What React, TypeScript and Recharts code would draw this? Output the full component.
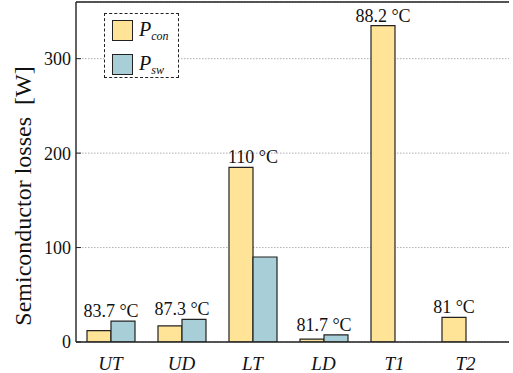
import React from 'react';
import {
  BarChart,
  Bar,
  XAxis,
  YAxis,
  CartesianGrid,
  Legend,
  LabelList,
  ReferenceLine,
} from 'recharts';

const categories = ['UT', 'UD', 'LT', 'LD', 'T1', 'T2'];
const conductionLoss = [12, 17, 185, 3, 335, 26];
const switchingLoss = [22, 24, 90, 7.5, 0, 0];
const junctionTemp = [83.7, 87.3, 110, 81.7, 88.2, 81];
const yTicks = [0, 100, 200, 300];

const CON_COLOR = '#ffe497';
const SW_COLOR = '#a8ced7';
const EDGE = '#222';
const FONT = "'Liberation Serif', 'DejaVu Serif', serif";

const data = categories.map((name, i) => ({
  name,
  pcon: conductionLoss[i],
  psw: switchingLoss[i],
  temp: junctionTemp[i],
}));

// temperature label sits above the taller bar of each group
function tempLabel(series: 'pcon' | 'psw') {
  return (props: any) => {
    const row = data[props.index];
    if (!row) return null;
    const x = Number(props.x);
    const y = Number(props.y);
    const w = Number(props.width);
    let cx: number;
    if (series === 'pcon') {
      if (row.psw > row.pcon) return null;
      cx = row.psw > 0 ? x + w : x + w / 2;
    } else {
      if (row.psw <= row.pcon) return null;
      cx = x;
    }
    return (
      <text
        x={cx}
        y={y - 4}
        textAnchor="middle"
        style={{ fontFamily: FONT, fontSize: 18 }}
        fill="#111"
      >
        {`${row.temp} °C`}
      </text>
    );
  };
}

function LossLegend() {
  const items = [
    { sub: 'con', color: CON_COLOR },
    { sub: 'sw', color: SW_COLOR },
  ];
  return (
    <div
      style={{
        border: `1.3px dashed ${EDGE}`,
        width: 73,
        height: 63,
        position: 'relative',
        background: '#fff',
      }}
    >
      {items.map((it, i) => (
        <div
          key={it.sub}
          style={{
            display: 'flex',
            alignItems: 'center',
            position: 'absolute',
            left: 7,
            top: 5 + i * 34,
          }}
        >
          <div
            style={{
              width: 19,
              height: 19,
              background: it.color,
              border: `1.3px solid ${EDGE}`,
            }}
          />
          <span
            style={{
              marginLeft: 6,
              fontFamily: FONT,
              fontStyle: 'italic',
              fontSize: 20,
              color: '#111',
              lineHeight: '20px',
              whiteSpace: 'nowrap',
            }}
          >
            P
            <span style={{ fontSize: 12, position: 'relative', top: 4 }}>{it.sub}</span>
          </span>
        </div>
      ))}
    </div>
  );
}

export default function App() {
  return (
    <div style={{ position: 'absolute', left: 0, top: 0, background: '#fff' }}>
      <BarChart
        width={513}
        height={373}
        data={data}
        margin={{ top: 2, right: 4, bottom: 1, left: 0 }}
        barGap={0}
        barSize={24}
      >
        <CartesianGrid
          vertical={false}
          stroke="#9a9a9a"
          strokeDasharray="1.5 1.5"
          strokeWidth={0.8}
        />
        <XAxis
          dataKey="name"
          height={30}
          padding={{ left: -1, right: 8 }}
          axisLine={{ stroke: EDGE, strokeWidth: 1.4 }}
          tickLine={false}
          tickSize={0}
          tickMargin={15}
          tick={{ style: { fontFamily: FONT, fontStyle: 'italic', fontSize: 19 }, fill: '#111' }}
        />
        <YAxis
          width={76}
          domain={[0, 360]}
          ticks={yTicks}
          allowDataOverflow
          axisLine={{ stroke: EDGE, strokeWidth: 1.4 }}
          tickLine={{ stroke: EDGE, strokeWidth: 1 }}
          tickSize={-5}
          tickMargin={10}
          tick={{ style: { fontFamily: FONT, fontSize: 18 }, fill: '#111' }}
          label={() => (
            <text
              x={31}
              y={196}
              transform="rotate(-90 31 196)"
              textAnchor="middle"
              style={{ fontFamily: FONT, fontSize: 24, whiteSpace: 'pre' }}
              fill="#111"
            >
              {'Semiconductor losses  [W]'}
            </text>
          )}
        />
        <YAxis
          yAxisId="right"
          orientation="right"
          width={0}
          domain={[0, 360]}
          ticks={yTicks}
          allowDataOverflow
          axisLine={{ stroke: EDGE, strokeWidth: 1.4 }}
          tickLine={{ stroke: EDGE, strokeWidth: 1 }}
          tickSize={-5}
          tickFormatter={() => ''}
        />
        <ReferenceLine y={360} stroke={EDGE} strokeWidth={1.4} />
        <Legend
          layout="horizontal"
          verticalAlign="middle"
          align="center"
          wrapperStyle={{ left: 104, top: 13, width: 75, height: 65 }}
          content={() => <LossLegend />}
        />
        <Bar
          dataKey="pcon"
          fill={CON_COLOR}
          stroke={EDGE}
          strokeWidth={1.2}
          isAnimationActive={false}
        >
          <LabelList dataKey="pcon" content={tempLabel('pcon')} />
        </Bar>
        <Bar
          dataKey="psw"
          fill={SW_COLOR}
          stroke={EDGE}
          strokeWidth={1.2}
          isAnimationActive={false}
        >
          <LabelList dataKey="psw" content={tempLabel('psw')} />
        </Bar>
      </BarChart>
    </div>
  );
}
